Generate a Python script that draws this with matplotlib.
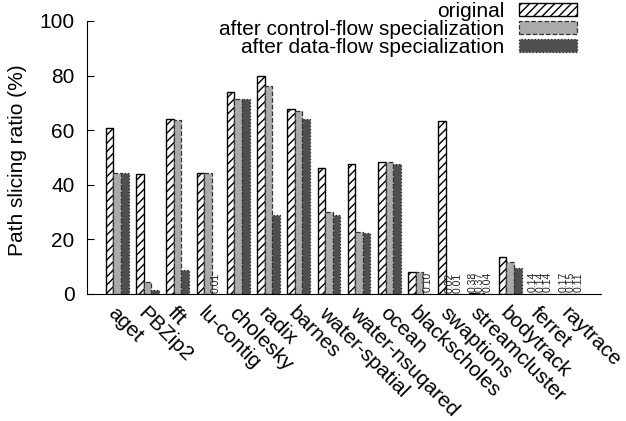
import matplotlib
matplotlib.use('Agg')
import matplotlib.pyplot as plt
import numpy as np

plt.rcParams['font.family'] = ['Liberation Sans', 'DejaVu Sans']
plt.rcParams['hatch.linewidth'] = 1.0

benchmarks = ['aget', 'PBZip2', 'fft', 'lu-contig', 'cholesky', 'radix', 'barnes',
              'water-spatial', 'water-nsuqared', 'ocean', 'blackscholes', 'swaptions',
              'streamcluster', 'bodytrack', 'ferret', 'raytrace']
original = [60.7, 43.8, 64.1, 44.2, 73.9, 79.7, 67.7, 46.0, 47.6, 48.2, 8.1, 63.3, 0.38, 13.7, 0.14, 0.17]
control_flow = [44.2, 4.3, 63.8, 44.2, 71.5, 76.2, 66.9, 29.9, 22.6, 48.2, 8.1, 0.02, 0.37, 11.6, 0.14, 0.15]
data_flow = [44.2, 1.5, 8.8, 0.01, 71.3, 29.0, 64.1, 29.0, 22.3, 47.5, 0.10, 0.01, 0.04, 9.5, 0.14, 0.11]
series_names = ['original', 'after control-flow specialization', 'after data-flow specialization']

fig = plt.figure(figsize=(6.26, 4.21), dpi=100)
ax = fig.add_axes([0.139, 0.3017, 0.821, 0.6485])

x = np.arange(1, len(benchmarks) + 1)
w = 0.25
styles = [
    dict(color='white', edgecolor='black', hatch='////', linewidth=1.0),
    dict(color='#aaaaaa', edgecolor='#333333', linestyle='--', linewidth=0.9),
    dict(color='#4f4f4f', edgecolor='#222222', linestyle=':', linewidth=0.9),
]
handles = []
for i, (vals, name) in enumerate(zip([original, control_flow, data_flow], series_names)):
    b = ax.bar(x + (i - 1) * w, vals, w, label=name, **styles[i])
    handles.append(b)
    # small values get a rotated text label
    for xi, v in zip(x + (i - 1) * w, vals):
        if v < 1:
            ax.annotate('%.2f' % v, (xi, v), xytext=(0, 1), textcoords='offset points',
                        rotation=90, ha='center', va='bottom', fontsize=7.5, color='#222222')

ax.set_xlim(0, 17)
ax.set_ylim(0, 100)
ax.set_yticks([0, 20, 40, 60, 80, 100])
ax.tick_params(axis='y', direction='in', length=5, labelsize=15, pad=9)
ax.set_xticks(x)
ax.set_xticklabels(benchmarks, rotation=-45, ha='left', va='top', rotation_mode='anchor', fontsize=15)
ax.tick_params(axis='x', length=0, pad=7)
ax.spines['top'].set_visible(False)
ax.spines['right'].set_visible(False)

fig.text(18 / 626, 0.62, 'Path slicing ratio (%)', rotation=90, ha='center', va='center', fontsize=15)

fig.legend(handles=handles, loc='upper right', bbox_to_anchor=(577 / 626, 1 - 2 / 421),
           frameon=False, markerfirst=False, fontsize=15, handlelength=2.8, handleheight=0.55,
           handletextpad=0.7, labelspacing=-0.05, borderpad=0, borderaxespad=0)

fig.savefig('out.png', dpi=100)
